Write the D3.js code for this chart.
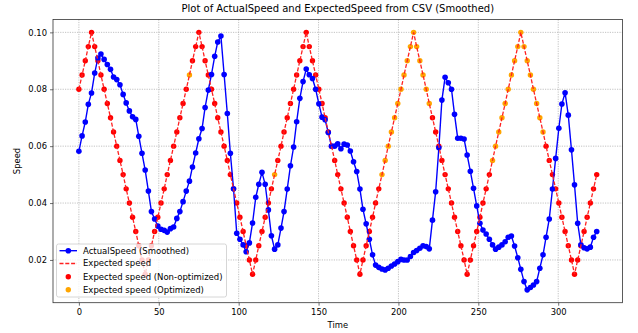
<!DOCTYPE html>
<html><head><meta charset="utf-8">
<script src="https://cdn.jsdelivr.net/npm/d3@7"></script>
<style>body{margin:0;background:#fff} text{font-family:"DejaVu Sans",sans-serif;fill:#000}</style>
</head><body><svg id="chart" width="638" height="333"></svg>
<script>
const time = [0,2.0,4.0,5.9,7.9,9.9,11.9,13.8,15.8,17.8,19.8,21.7,23.7,25.7,27.7,29.6,31.6,33.6,35.6,37.5,39.5,41.5,43.5,45.4,47.4,49.4,51.4,53.4,55.3,57.3,59.3,61.3,63.2,65.2,67.2,69.2,71.1,73.1,75.1,77.1,79.0,81.0,83.0,85.0,86.9,88.9,90.9,92.9,94.8,96.8,98.8,100.8,102.8,104.7,106.7,108.7,110.7,112.6,114.6,116.6,118.6,120.5,122.5,124.5,126.5,128.4,130.4,132.4,134.4,136.3,138.3,140.3,142.3,144.2,146.2,148.2,150.2,152.2,154.1,156.1,158.1,160.1,162.0,164.0,166.0,168.0,169.9,171.9,173.9,175.9,177.8,179.8,181.8,183.8,185.7,187.7,189.7,191.7,193.6,195.6,197.6,199.6,201.6,203.5,205.5,207.5,209.5,211.4,213.4,215.4,217.4,219.3,221.3,223.3,225.3,227.2,229.2,231.2,233.2,235.1,237.1,239.1,241.1,243.0,245.0,247.0,249.0,251.0,252.9,254.9,256.9,258.9,260.8,262.8,264.8,266.8,268.7,270.7,272.7,274.7,276.6,278.6,280.6,282.6,284.5,286.5,288.5,290.5,292.4,294.4,296.4,298.4,300.4,302.3,304.3,306.3,308.3,310.2,312.2,314.2,316.2,318.1,320.1,322.1,324.1];

const actualSpeed = [0.0582,0.0636,0.0685,0.0747,0.0787,0.0857,0.0910,0.0924,0.0905,0.0887,
0.0870,0.0843,0.0834,0.0816,0.0782,0.0752,0.0724,0.0703,0.0694,0.0635,
0.0575,0.0516,0.0442,0.0370,0.0344,0.0319,0.0308,0.0304,0.0298,0.0310,
0.0316,0.0346,0.0370,0.0405,0.0442,0.0477,0.0527,0.0576,0.0626,0.0662,
0.0736,0.0797,0.0852,0.0916,0.0966,0.0987,0.0852,0.0715,0.0575,0.0450,
0.0294,0.0273,0.0253,0.0229,0.0260,0.0330,0.0420,0.0466,0.0508,0.0466,
0.0376,0.0285,0.0238,0.0253,0.0312,0.0370,0.0449,0.0531,0.0597,0.0686,
0.0768,0.0827,0.0871,0.0851,0.0838,0.0800,0.0749,0.0702,0.0693,0.0648,
0.0600,0.0600,0.0608,0.0591,0.0607,0.0604,0.0583,0.0545,0.0511,0.0449,
0.0378,0.0327,0.0273,0.0218,0.0182,0.0174,0.0168,0.0165,0.0171,0.0179,
0.0186,0.0194,0.0202,0.0200,0.0200,0.0212,0.0226,0.0233,0.0241,0.0250,
0.0247,0.0239,0.0340,0.0440,0.0594,0.0762,0.0842,0.0823,0.0800,0.0712,
0.0628,0.0628,0.0625,0.0569,0.0512,0.0452,0.0390,0.0329,0.0305,0.0291,
0.0273,0.0253,0.0238,0.0245,0.0253,0.0264,0.0280,0.0284,0.0249,0.0208,
0.0167,0.0124,0.0095,0.0103,0.0112,0.0124,0.0171,0.0218,0.0280,0.0344,
0.0449,0.0557,0.0663,0.0748,0.0788,0.0709,0.0587,0.0464,0.0329,0.0253,
0.0243,0.0239,0.0245,0.0280,0.0300];

const expectedSpeed = [0.080,0.085,0.090,0.095,0.100,
0.095,0.090,0.085,0.080,0.075,0.070,0.065,0.060,0.055,0.050,0.045,0.040,0.035,0.030,0.025,0.020,0.015,
0.020,0.025,0.030,0.035,0.040,0.045,0.050,0.055,0.060,0.065,0.070,0.075,0.080,0.085,0.090,0.095,0.100,
0.095,0.090,0.085,0.080,0.075,0.070,0.065,0.060,0.055,0.050,0.045,0.040,0.035,0.030,0.025,0.020,0.015,
0.020,0.025,0.030,0.035,0.040,0.045,0.050,0.055,0.060,0.065,0.070,0.075,0.080,0.085,0.090,0.095,0.100,
0.095,0.090,0.085,0.080,0.075,0.070,0.065,0.060,0.055,0.050,0.045,0.040,0.035,0.030,0.025,0.020,0.015,
0.020,0.025,0.030,0.035,0.040,0.045,0.050,0.055,0.060,0.065,0.070,0.075,0.080,0.085,0.090,0.095,0.100,
0.095,0.090,0.085,0.080,0.075,0.070,0.065,0.060,0.055,0.050,0.045,0.040,0.035,0.030,0.025,0.020,0.015,
0.020,0.025,0.030,0.035,0.040,0.045,0.050,0.055,0.060,0.065,0.070,0.075,0.080,0.085,0.090,0.095,0.100,
0.095,0.090,0.085,0.080,0.075,0.070,0.065,0.060,0.055,0.050,0.045,0.040,0.035,0.030,0.025,0.020,0.015,
0.020,0.025,0.030,0.035,0.040,0.045,0.050];

// indices of points where expected speed is "Optimized"
const optimizedIdx = [35,62,96,97,98,99,100,101,102,103,104,105,106,107,108,109,110,111,
131,132,133,134,135,136,137,138,139,140,141,142,143,144,145,146,147];

const xTicks = [0,50,100,150,200,250,300];
const yTicks = [0.02,0.04,0.06,0.08,0.10];
const titleText = "Plot of ActualSpeed and ExpectedSpeed from CSV (Smoothed)";
const legendLabels = ["ActualSpeed (Smoothed)","Expected speed","Expected speed (Non-optimized)","Expected speed (Optimized)"];

const svg = d3.select("#chart");
svg.append("rect").attr("width",638).attr("height",333).attr("fill","#fff");

const L = 53, R = 622.6, T = 19.5, B = 302.7;
const x = d3.scaleLinear().domain([-16.2, 340.3]).range([L, R]);
const y = d3.scaleLinear().domain([0.004975, 0.104525]).range([B, T]);

// grid
const grid = svg.append("g");
grid.selectAll("line.gx").data(xTicks).join("line")
  .attr("x1",d=>x(d)).attr("x2",d=>x(d)).attr("y1",T).attr("y2",B)
  .attr("stroke","#a8a8a8").attr("stroke-width",0.7).attr("stroke-dasharray","1.2,1.2");
grid.selectAll("line.gy").data(yTicks).join("line")
  .attr("x1",L).attr("x2",R).attr("y1",d=>y(d)).attr("y2",d=>y(d))
  .attr("stroke","#a8a8a8").attr("stroke-width",0.7).attr("stroke-dasharray","1.2,1.2");

svg.append("clipPath").attr("id","clip").append("rect")
  .attr("x",L).attr("y",T).attr("width",R-L).attr("height",B-T);
const plot = svg.append("g").attr("clip-path","url(#clip)");

const pts = time.map((t,i)=>({t, a:actualSpeed[i], e:expectedSpeed[i], opt: optimizedIdx.includes(i)}));

// scatter (below lines, like matplotlib collections)
plot.selectAll("circle.sc").data(pts).join("circle")
  .attr("cx",d=>x(d.t)).attr("cy",d=>y(d.e)).attr("r",2.7)
  .attr("fill",d=>d.opt?"#ffa500":"#ff0000");

// blue line with markers
const lineA = d3.line().x(d=>x(d.t)).y(d=>y(d.a));
plot.append("path").datum(pts).attr("d",lineA).attr("fill","none")
  .attr("stroke","#0000ff").attr("stroke-width",1.4);
plot.selectAll("circle.bl").data(pts).join("circle")
  .attr("cx",d=>x(d.t)).attr("cy",d=>y(d.a)).attr("r",2.8).attr("fill","#0000ff");

// red dashed expected line
const lineE = d3.line().x(d=>x(d.t)).y(d=>y(d.e));
plot.append("path").datum(pts).attr("d",lineE).attr("fill","none")
  .attr("stroke","#ff2020").attr("stroke-width",1.3)
  .attr("stroke-dasharray","4,1.8");

// axes
const xAxis = d3.axisBottom(x).tickValues(xTicks).tickSize(3).tickPadding(3).tickFormat(d3.format("d"));
const yAxis = d3.axisLeft(y).tickValues(yTicks).tickSize(3).tickPadding(3).tickFormat(d3.format(".2f"));
const gx = svg.append("g").attr("transform",`translate(0,${B})`).call(xAxis);
const gy = svg.append("g").attr("transform",`translate(${L},0)`).call(yAxis);
[gx,gy].forEach(g=>{
  g.select(".domain").remove();
  g.selectAll("line").attr("stroke","#333").attr("stroke-width",0.7);
  g.selectAll("text").attr("font-size",8.4).attr("fill","#222").style("font-family","DejaVu Sans");
});
svg.append("rect").attr("x",L).attr("y",T).attr("width",R-L).attr("height",B-T)
  .attr("fill","none").attr("stroke","#333").attr("stroke-width",0.8);

svg.append("text").attr("x",(L+R)/2).attr("y",12).attr("text-anchor","middle")
  .attr("font-size",10).text(titleText);
svg.append("text").attr("x",(L+R)/2).attr("y",328).attr("text-anchor","middle")
  .attr("font-size",8.4).text("Time");
svg.append("text").attr("transform","translate(20,161) rotate(-90)").attr("text-anchor","middle")
  .attr("font-size",8.4).text("Speed");

// legend
const lg = svg.append("g");
lg.append("rect").attr("x",56.5).attr("y",244).attr("width",170).attr("height",53).attr("rx",2)
  .attr("fill","#fff").attr("fill-opacity",0.8).attr("stroke","#cccccc").attr("stroke-width",0.8);
const rows = [250.7,263.5,276.7,289.8];
lg.append("line").attr("x1",59.5).attr("x2",77).attr("y1",rows[0]).attr("y2",rows[0]).attr("stroke","#0000ff").attr("stroke-width",1.4);
lg.append("circle").attr("cx",68.3).attr("cy",rows[0]).attr("r",2.8).attr("fill","#0000ff");
lg.append("line").attr("x1",59.5).attr("x2",77).attr("y1",rows[1]).attr("y2",rows[1]).attr("stroke","#ff2020").attr("stroke-width",1.3).attr("stroke-dasharray","4,1.8");
lg.append("circle").attr("cx",68.3).attr("cy",rows[2]).attr("r",2.7).attr("fill","#ff0000");
lg.append("circle").attr("cx",68.3).attr("cy",rows[3]).attr("r",2.7).attr("fill","#ffa500");
lg.selectAll("text.lt").data(legendLabels).join("text")
  .attr("x",83).attr("y",(d,i)=>rows[i]).attr("dy","0.35em").attr("font-size",8.5).text(d=>d);
</script></body></html>
